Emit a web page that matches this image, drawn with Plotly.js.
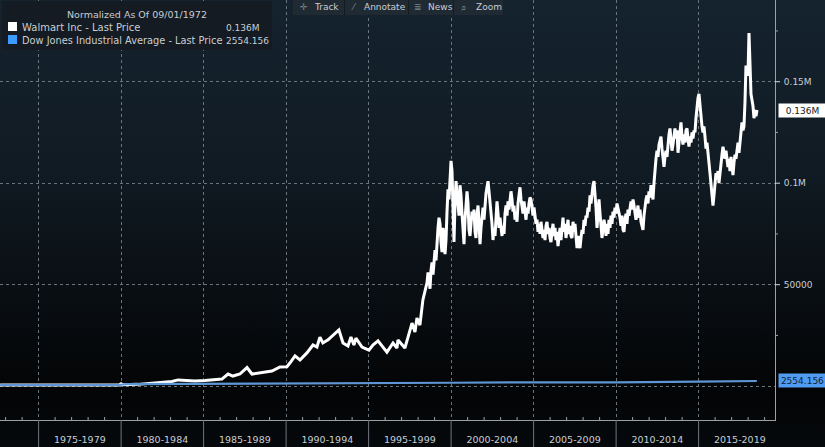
<!DOCTYPE html>
<html><head><meta charset="utf-8">
<script src="https://cdn.plot.ly/plotly-3.0.1.min.js"></script>
<style>
html,body{margin:0;padding:0;width:825px;height:447px;overflow:hidden;
background:linear-gradient(180deg,#15232f 0%,#101a22 40%,#080c10 70%,#030405 88%,#06090c 100%);}
#c{width:825px;height:447px}
</style></head><body><div id="c"></div>
<script>
const walmartEarlyYears=[1972.67,1976,1979.9,1980,1980.1,1981,1982.17,1982.66,1983.08,1983.45,1983.87,1984.48,1985.08,1985.69,1986.11,1986.48,1986.78,1987.2,1987.63,1987.93,1988.29,1988.72,1989.14,1989.63,1990.05,1990.23,1990.54,1990.84,1991.26,1991.63,1991.87,1992.05,1992.23,1992.54,1992.96,1993.2,1993.45,1993.75,1993.93,1994.11,1994.23,1994.6,1995.02,1995.26,1995.57,1996.11,1996.48,1996.72,1996.78,1997.2,1997.39,1997.63,1997.81,1997.93,1998.11,1998.29];
const walmartEarlyK=[0.6,0.6,0.6,1.2,0.7,0.9,1.6,2.1,2.3,3.1,2.8,2.6,2.8,3.1,3.5,6,5,6,9.2,6,6.5,7,7.5,9.5,9.6,11.4,14.9,12.9,16.4,20.3,19.3,24.2,21.3,22.8,26.2,27.7,21.3,19.8,24.2,20.3,23.7,19.3,17.8,20.3,22.3,16.8,21.3,18.8,22.8,18.8,24.2,31.1,26.7,33.6,30.1,42.5];
const walmartLateK=[
51,56,53,48,57,61,55,64,67,62,
72,78,83,80,71,66,78,74,65,72,
86,97,92,103,111,106,84,71,90,101,
95,88,84,99,94,85,76,70,82,92,
96,90,77,74,80,86,82,87,76,73,
84,89,81,70,78,85,88,82,91,95,
98,101,96,91,86,80,72,78,74,87,
91,85,78,83,76,74,79,75,85,89,
84,91,87,93,96,92,86,89,82,85,
81,90,94,98,92,88,85,91,84,82,
88,85,90,93,92,87,84,88,82,80,
82,76,80,75,81,78,73,77,72,79,
81,75,78,73,71,76,80,74,78,72,
76,69,74,78,72,77,83,76,80,73,
78,82,75,79,74,73,81,76,80,72,
68,74,70,68,73,77,75,82,79,84,
83,88,86,94,90,96,99,101,95,88,
78,88,92,85,80,73,78,82,79,74,
80,75,82,78,84,80,86,83,88,85,
90,88,86,83,79,84,77,76,82,85,
80,87,84,88,91,87,92,89,84,82,
85,89,83,87,81,78,77,84,89,92,
94,90,96,93,99,95,92,100,108,112,
116,113,119,122,123,117,110,108,113,116,
113,120,124,127,121,116,119,123,127,122,
126,115,121,125,130,123,119,124,120,126,
127,122,118,123,120,125,122,126,125,132,
139,142,144,138,131,128,125,128,123,117,
120,113,110,105,100,96,89,94,99,105,
102,106,100,106,110,114,118,115,112,116,
113,108,112,106,113,109,104,110,114,112,
118,120,115,121,125,130,126,128,140,158,
154,153,174,160,144,141,138,132,136,133,136];
const lateStartYear=1998.54, sampleStep=0.0606;
const walmartLateYears=walmartLateK.map((_,i)=>+(lateStartYear+i*sampleStep).toFixed(3));
const walmartYears=walmartEarlyYears.concat(walmartLateYears);
const walmartValues=walmartEarlyK.concat(walmartLateK).map(v=>v*1000);
const dowYears=[1972.67,1976,1979.9,1980.3,1985,1990,1995,2000,2005,2009,2010,2015,2018,2018.53];
const dowK=[0.6,0.6,0.6,1,1.1,1.3,1.5,1.7,1.9,1.7,1.9,2.3,2.5,2.554];
const dowValues=dowK.map(v=>v*1000);
const periodLabels=['1975-1979','1980-1984','1985-1989','1990-1994','1995-1999','2000-2004','2005-2009','2010-2014','2015-2019'];
const periodStarts=[1975,1980,1985,1990,1995,2000,2005,2010,2015];
const periodMids=periodStarts.map(y=>y+2.5);
const minorYears=[];for(let y=1973;y<=2019;y++)if(y%5)minorYears.push(y);
const yTicks=[0,50000,100000,150000], yLabels=['','50000','0.1M','0.15M'], yMinor=[25000,75000,125000,175000];

const W=775,H=420;
const px=x=>x/W, py=y=>1-y/H;
const TXT='#c9ced3', F='"DejaVu Sans"';
function rect(x0,y0,x1,y1,fill){return {type:'rect',xref:'paper',yref:'paper',x0:px(x0),x1:px(x1),y0:py(y0),y1:py(y1),fillcolor:fill,line:{width:0},layer:'above'};}
function label(x,y,text,opt){return Object.assign({xref:'paper',yref:'paper',x:px(x),y:py(y),text,showarrow:false,xanchor:'left',yanchor:'middle',font:{family:F,size:10,color:TXT}},opt||{});}
function xTick(v,y0,y1,c){return {type:'line',xref:'x',yref:'paper',x0:v,x1:v,y0:py(y0),y1:py(y1),line:{color:c,width:1},layer:'above'};}
function yTick(v,x0,x1,c){return {type:'line',xref:'paper',yref:'y',x0:px(x0),x1:px(x1),y0:v,y1:v,line:{color:c,width:1},layer:'above'};}

const data=[
 {x:walmartYears,y:walmartValues,type:'scatter',mode:'lines',line:{color:'#ffffff',width:3},name:'Walmart Inc - Last Price',hoverinfo:'skip'},
 {x:dowYears,y:dowValues,type:'scatter',mode:'lines',line:{color:'#5f97d6',width:2.2},name:'Dow Jones Industrial Average - Last Price',hoverinfo:'skip'},
 {x:[2019.82],y:[136000],type:'scatter',mode:'markers',marker:{symbol:'triangle-left',size:7,color:'#ffffff'},cliponaxis:false,hoverinfo:'skip'},
 {x:[2019.82],y:[2554],type:'scatter',mode:'markers',marker:{symbol:'triangle-left',size:7,color:'#4f9cf0'},cliponaxis:false,hoverinfo:'skip'},
 {x:periodMids,y:periodMids.map(()=>0),xaxis:'x2',type:'scatter',mode:'markers',marker:{opacity:0},hoverinfo:'skip'}
];
const layout={
 width:825,height:447,margin:{l:0,r:50,t:0,b:27},showlegend:false,
 paper_bgcolor:'rgba(0,0,0,0)',plot_bgcolor:'rgba(0,0,0,0)',
 xaxis:{range:[1972.66,2019.63],tickmode:'array',tickvals:periodStarts,ticktext:periodStarts.map(()=>''),
  showgrid:true,gridcolor:'#6a747c',griddash:'dot',gridwidth:1,zeroline:false,
  showline:true,linecolor:'#9aa1a7',linewidth:1,ticks:''},
 xaxis2:{overlaying:'x',anchor:'y',side:'bottom',range:[1972.66,2019.63],tickmode:'array',tickvals:periodMids,ticktext:periodLabels,
  showgrid:false,zeroline:false,showline:false,ticks:'outside',ticklen:11,tickcolor:'rgba(0,0,0,0)',
  tickfont:{family:F,size:9.5,color:TXT}},
 yaxis:{side:'right',range:[-16650,190240],tickmode:'array',tickvals:yTicks,ticktext:yLabels,
  showgrid:true,gridcolor:'#6a747c',griddash:'dot',gridwidth:1,zeroline:false,
  showline:true,linecolor:'#9aa1a7',linewidth:1,ticks:'',ticklabelstandoff:6,
  tickfont:{family:F,size:9,color:TXT}},
 shapes:[
  rect(2,1,272,50,'#141b22'),
  rect(8,22,17,31,'#ffffff'),
  rect(8,35,17,44,'#3d9bff'),
  rect(293,-2,503,15,'#1f2a33'),
  rect(344,0,345,15,'#141c23'),rect(408,0,409,15,'#141c23'),rect(453,0,454,15,'#141c23'),
  ...periodStarts.map(v=>xTick(v,420,447,'#6f777e')),
  ...minorYears.map(v=>xTick(v,417,420,'#9aa1a7')),
  ...[50000,100000,150000].map(v=>yTick(v,775,780,'#d5d8da')),
  ...yMinor.map(v=>yTick(v,775,778,'#9aa1a7'))
 ],
 annotations:[
  label(137,15,'Normalized As Of 09/01/1972',{xanchor:'center',font:{family:F,size:9.5,color:TXT}}),
  label(19.5,28,'Walmart Inc - Last Price'),
  label(224,28,'0.136M',{font:{family:F,size:9,color:TXT}}),
  label(19.5,41,'Dow Jones Industrial Average - Last Price',{font:{family:F,size:9.8,color:TXT}}),
  label(224,41,'2554.156',{font:{family:F,size:9,color:TXT}}),
  label(298,7,'✛',{font:{family:F,size:9,color:'#7c858c'}}),
  label(312,7,'Track',{font:{family:F,size:9,color:TXT}}),
  label(349,7,'⁄',{font:{family:F,size:9,color:'#7c858c'}}),
  label(362,7,'Annotate',{font:{family:F,size:9,color:TXT}}),
  label(412,7,'≣',{font:{family:F,size:9,color:'#7c858c'}}),
  label(426,7,'News',{font:{family:F,size:9,color:TXT}}),
  label(459,7,'⌕',{font:{family:F,size:10,color:'#7c858c'}}),
  label(474,7,'Zoom',{font:{family:F,size:9,color:TXT}}),
  {xref:'paper',yref:'y',x:px(778),y:136000,text:'0.136M',showarrow:false,xanchor:'left',yanchor:'middle',width:47,height:13,bgcolor:'#ffffff',borderpad:0,align:'center',font:{family:F,size:9,color:'#222'}},
  {xref:'paper',yref:'y',x:px(778),y:2554,yshift:1,text:'2554.156',showarrow:false,xanchor:'left',yanchor:'middle',width:47,height:13,bgcolor:'#4f9cf0',borderpad:0,align:'center',font:{family:F,size:9,color:'#10233a'}}
 ]
};
Plotly.newPlot('c',data,layout,{displayModeBar:false,staticPlot:true});
</script></body></html>
